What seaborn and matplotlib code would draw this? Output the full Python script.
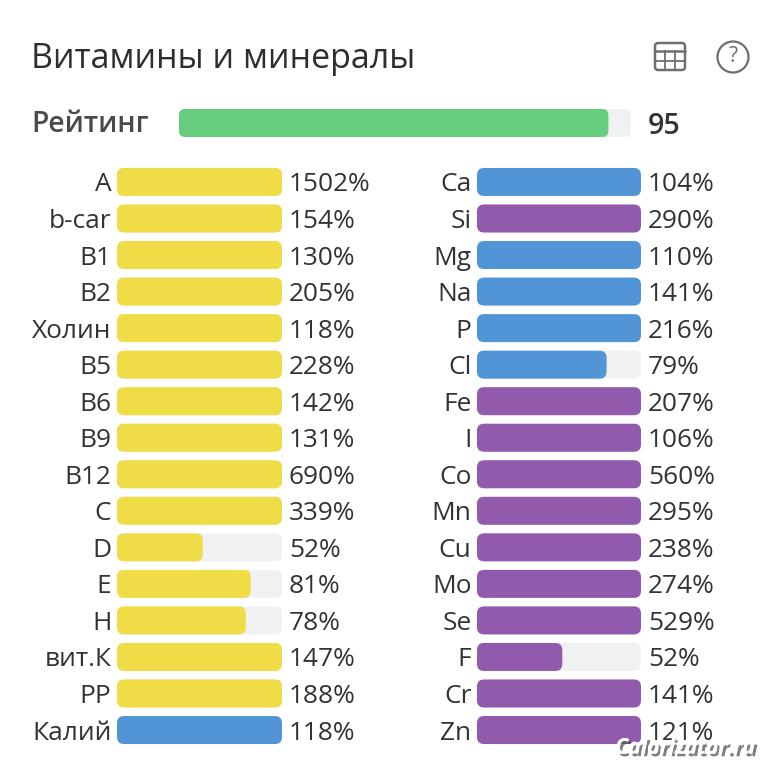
import matplotlib
matplotlib.use("Agg")
import matplotlib.pyplot as plt
import matplotlib.patheffects as pe
from matplotlib.patches import FancyBboxPatch, Circle
from matplotlib.transforms import IdentityTransform
import numpy as np
import pandas as pd
import seaborn as sns

left_names = ["A", "b-car", "B1", "B2", "Холин", "B5", "B6", "B9", "B12", "C", "D", "E", "H", "вит.К", "PP", "Калий"]
left_values = [1502, 154, 130, 205, 118, 228, 142, 131, 690, 339, 52, 81, 78, 147, 188, 118]
left_kinds = ["vit"] * 15 + ["macro"]

right_names = ["Ca", "Si", "Mg", "Na", "P", "Cl", "Fe", "I", "Co", "Mn", "Cu", "Mo", "Se", "F", "Cr", "Zn"]
right_values = [104, 290, 110, 141, 216, 79, 207, 106, 560, 295, 238, 274, 529, 52, 141, 121]
right_kinds = ["macro", "micro", "macro", "macro", "macro", "macro"] + ["micro"] * 10

rating_name = ["Рейтинг"]
rating_value = [95]
title = "Витамины и минералы"

TRACK = "#F0F1F3"
PALETTE = {"vit": "#F0DC46", "macro": "#5295D6", "micro": "#915AAD", "rating": "#66CC7E"}
TEXT = "#333333"

sns.set_theme(style="white")
plt.rcParams["font.family"] = ["Open Sans", "DejaVu Sans"]

W, H = 779, 768
fig = plt.figure(figsize=(W / 100, H / 100), dpi=100, facecolor="white")


def px_axes(x0, x1, y0, y1):
    return fig.add_axes([x0 / W, 1 - y1 / H, (x1 - x0) / W, (y1 - y0) / H])


def round_bars(ax, radius):
    """Swap seaborn's square bars for rounded ones of the same geometry."""
    fig.canvas.draw()
    for i, p in enumerate(list(ax.patches)):
        bb = p.get_window_extent()
        if bb.width < 1 or bb.height < 1:
            continue
        ax.add_patch(FancyBboxPatch((bb.x0, bb.y0), bb.width, bb.height,
                                    boxstyle=f"round,pad=0,rounding_size={radius}",
                                    fc=p.get_facecolor(), ec="none",
                                    transform=IdentityTransform(), clip_on=False,
                                    zorder=2 + i * 0.001))
        p.set_visible(False)


def panel(ax, names, values, kinds, label_px, bar_h, labelsize, unit="%", gap=7, valweight="normal"):
    df = pd.DataFrame({"name": names, "value": values, "kind": kinds})
    df["fill"] = np.minimum(df["value"], 100)
    df["track"] = 100
    sns.barplot(data=df, x="track", y="name", color=TRACK, saturation=1, width=bar_h, ax=ax)
    sns.barplot(data=df, x="fill", y="name", hue="kind", palette=PALETTE, saturation=1,
                dodge=False, width=bar_h, legend=False, ax=ax)
    ax.set_xlim(0, 100)
    ax.set_ylim(len(names) - 0.5, -0.5)
    ax.set_xlabel("")
    ax.set_ylabel("")
    ax.set_xticks([])
    ax.tick_params(axis="y", length=0, pad=label_px, labelsize=labelsize, labelcolor=TEXT)
    sns.despine(ax=ax, left=True, bottom=True)
    ax.patch.set_alpha(0)
    for i, v in enumerate(values):
        ax.annotate(f"{v}{unit}", (1, i), xycoords=ax.get_yaxis_transform(),
                    xytext=(gap, 0), textcoords="offset pixels", va="center_baseline", ha="left",
                    fontsize=labelsize, color=TEXT, weight=valweight, annotation_clip=False)


BAR_FRAC = 28 / 36.53
top, bottom = 163.7, 748.3

ax_l = px_axes(117, 282, top, bottom)
panel(ax_l, left_names, left_values, left_kinds, 4, BAR_FRAC, 18.9)
ax_r = px_axes(477, 641, top, bottom)
panel(ax_r, right_names, right_values, right_kinds, 4, BAR_FRAC, 18.9)

ax_t = px_axes(179, 631, 109, 137)
panel(ax_t, rating_name, rating_value, ["rating"], 30, 1.0, 20.5, unit="", gap=17, valweight="semibold")
ax_t.set_yticklabels([])

for a in (ax_l, ax_r):
    round_bars(a, 7)
round_bars(ax_t, 6)

# overlay for title, rating label, icons and watermark
ov = fig.add_axes([0, 0, 1, 1], zorder=5)
ov.set_xlim(0, W)
ov.set_ylim(H, 0)
ov.axis("off")
ov.patch.set_alpha(0)
ov.text(31, 58.5, title, fontsize=24.5, weight="medium", color="#2E2E2E", ha="left", va="center")
ov.text(31, 125, rating_name[0], fontsize=20.3, weight="semibold", color="#4A4A4A", ha="left", va="center")

ICON = "#6E6E6E"
ov.add_patch(FancyBboxPatch((655, 43), 30, 27, boxstyle="round,pad=0,rounding_size=3", fc="none", ec=ICON, lw=1.8))
ov.plot([655, 685], [51, 51], color=ICON, lw=1.8)
ov.plot([655, 685], [60.5, 60.5], color=ICON, lw=1.3)
ov.plot([665, 665], [51, 70], color=ICON, lw=1.3)
ov.plot([675, 675], [51, 70], color=ICON, lw=1.3)
ov.add_patch(Circle((733, 57), 15.5, fc="none", ec=ICON, lw=1.6))
ov.text(733, 57, "?", fontsize=15, color=ICON, ha="center", va="center")

ov.text(685, 748, "Calorizator.ru", fontsize=15.3, weight="bold", style="italic", color="white",
        ha="center", va="center",
        path_effects=[pe.withSimplePatchShadow(offset=(2, -2), shadow_rgbFace="#555555", alpha=0.75),
                      pe.Normal()])

fig.savefig("out.png", dpi=100, facecolor="white")
